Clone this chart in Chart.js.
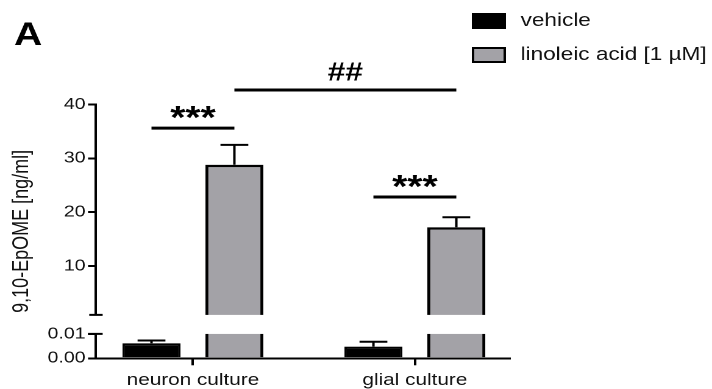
<!DOCTYPE html>
<html>
<head>
<meta charset="utf-8">
<script src="https://cdn.jsdelivr.net/npm/chart.js@4/dist/chart.umd.min.js"></script>
<style>
  html, body { margin: 0; padding: 0; background: #fff; overflow: hidden; }
  #wrap { width: 584px; height: 389px; transform: scaleX(1.2192); transform-origin: 0 0; }
</style>
</head>
<body>
<div id="wrap"><canvas id="c" width="584" height="389"></canvas></div>
<script>
// ---- data (ng/ml) ----
const categories = ['neuron culture', 'glial culture'];
const seriesNames = ['vehicle', 'linoleic acid [1 µM]'];
const vehicleMean = [0.0062, 0.0048];
const vehicleSem = [0.0011, 0.0020];
const linoleicMean = [28.8, 17.2];
const linoleicSem = [3.7, 1.85];

// ---- broken y axis: lower and upper value ranges, tick values and labels ----
const lowerSegment = [0, 0.01];
const upperSegment = [0.9, 40];
const yTickValues = [0, 0.01, 10, 20, 30, 40];
const yTickLabels = ['0.00', '0.01', '10', '20', '30', '40'];

// ---- significance brackets: [dataset, category] endpoints, level in ng/ml ----
const sigLabels = ['***', '***', '##'];
const sigLevels = [35.6, 22.8, 42.7];
const sigFrom = [[0, 0], [0, 1], [1, 0]];
const sigTo = [[1, 0], [1, 1], [1, 1]];

// ---- style ----
const FONT = '"Liberation Sans", Arial, Helvetica, sans-serif';
const INK = '#111';
const GREY = '#a3a2a7';
const LOWER_FRAC = 0.096;   // share of plot height for the lower segment
const GAP_FRAC = 0.075;     // share of plot height for the gap between segments
const sigFontSize = { '***': 32, '##': 26 };

// Linear scale with a break: [lower] gap [upper]
class BrokenLinearScale extends Chart.LinearScale {
  segmentPixels() {
    const h = this.bottom - this.top;
    const lowTop = this.bottom - h * LOWER_FRAC;
    const highBottom = lowTop - h * GAP_FRAC;
    return { lowTop, highBottom };
  }
  buildTicks() {
    return yTickValues.map(v => ({ value: v }));
  }
  getPixelForValue(value) {
    const { lowTop, highBottom } = this.segmentPixels();
    const [l0, l1] = lowerSegment, [u0, u1] = upperSegment;
    if (value <= l1) return this.bottom - (value - l0) / (l1 - l0) * (this.bottom - lowTop);
    if (value >= u0) return highBottom - (value - u0) / (u1 - u0) * (highBottom - this.top);
    return lowTop - (value - l1) / (u0 - l1) * (lowTop - highBottom);
  }
  getValueForPixel(pixel) {
    const { lowTop, highBottom } = this.segmentPixels();
    const [l0, l1] = lowerSegment, [u0, u1] = upperSegment;
    if (pixel >= lowTop) return l0 + (this.bottom - pixel) / (this.bottom - lowTop) * (l1 - l0);
    if (pixel <= highBottom) return u0 + (highBottom - pixel) / (highBottom - this.top) * (u1 - u0);
    return l1 + (lowTop - pixel) / (lowTop - highBottom) * (u0 - l1);
  }
}
BrokenLinearScale.id = 'brokenLinear';
BrokenLinearScale.defaults = {};
Chart.register(BrokenLinearScale);

const means = [vehicleMean, linoleicMean];
const sems = [vehicleSem, linoleicSem];

const annotations = {
  id: 'annotations',
  afterDatasetsDraw(chart) {
    const ctx = chart.ctx, y = chart.scales.y, area = chart.chartArea;
    ctx.save();
    ctx.strokeStyle = '#000';
    ctx.lineWidth = 2;
    // error bars (upper only)
    chart.data.datasets.forEach((ds, d) => {
      chart.getDatasetMeta(d).data.forEach((bar, i) => {
        const top = y.getPixelForValue(means[d][i] + sems[d][i]);
        const half = bar.width * 0.24;
        ctx.beginPath();
        ctx.moveTo(bar.x, bar.y);
        ctx.lineTo(bar.x, top);
        ctx.moveTo(bar.x - half, top);
        ctx.lineTo(bar.x + half, top);
        ctx.stroke();
      });
    });
    // axis break gap
    const { lowTop, highBottom } = y.segmentPixels();
    ctx.fillStyle = '#fff';
    ctx.fillRect(area.left - 3, highBottom, area.right - area.left + 6, lowTop - highBottom);
    ctx.beginPath();
    ctx.moveTo(area.left - 5.5, highBottom);
    ctx.lineTo(area.left + 5.5, highBottom);
    ctx.moveTo(area.left - 6.5, lowTop);
    ctx.lineTo(area.left + 5.5, lowTop);
    ctx.stroke();
    // significance brackets
    ctx.lineWidth = 3;
    ctx.fillStyle = '#000';
    ctx.textAlign = 'center';
    ctx.textBaseline = 'alphabetic';
    sigLabels.forEach((label, k) => {
      const a = chart.getDatasetMeta(sigFrom[k][0]).data[sigFrom[k][1]];
      const b = chart.getDatasetMeta(sigTo[k][0]).data[sigTo[k][1]];
      const ly = y.getPixelForValue(sigLevels[k]);
      ctx.beginPath();
      ctx.moveTo(a.x, ly);
      ctx.lineTo(b.x, ly);
      ctx.stroke();
      ctx.font = 'bold ' + sigFontSize[label] + 'px ' + FONT;
      const m = ctx.measureText(label);
      ctx.fillText(label, (a.x + b.x) / 2, ly - 9.5 - m.actualBoundingBoxDescent);
    });
    ctx.restore();
  },
  afterDraw(chart) {
    const ctx = chart.ctx;
    ctx.save();
    // panel letter
    ctx.fillStyle = '#000';
    ctx.font = 'bold 32px ' + FONT;
    ctx.textAlign = 'left';
    ctx.textBaseline = 'alphabetic';
    ctx.fillText('A', 11.5, 45);
    // legend
    ctx.font = '18.5px ' + FONT;
    ctx.textBaseline = 'middle';
    chart.data.datasets.forEach((ds, d) => {
      const bx = 387, by = 13 + d * 34, bw = 28, bh = 16;
      ctx.fillStyle = ds.backgroundColor;
      ctx.fillRect(bx, by, bw, bh);
      ctx.strokeStyle = ds.borderColor;
      ctx.lineWidth = 2;
      ctx.strokeRect(bx + 1, by + 1, bw - 2, bh - 2);
      ctx.fillStyle = INK;
      ctx.fillText(ds.label, 427, by + bh / 2);
    });
    ctx.restore();
  }
};

new Chart(document.getElementById('c'), {
  type: 'bar',
  data: {
    datasets: [
      {
        label: seriesNames[0],
        data: categories.map((c, i) => ({ x: i, y: vehicleMean[i] })),
        backgroundColor: '#000',
        borderColor: '#000',
        borderWidth: 2
      },
      {
        label: seriesNames[1],
        data: categories.map((c, i) => ({ x: i, y: linoleicMean[i] })),
        backgroundColor: GREY,
        borderColor: '#000',
        borderWidth: 2.5
      }
    ]
  },
  options: {
    responsive: false,
    animation: false,
    devicePixelRatio: 2,
    events: [],
    layout: { padding: { top: 104.5, right: 166, bottom: 0, left: 0 } },
    datasets: { bar: { categoryPercentage: 0.747, barPercentage: 0.70 } },
    plugins: {
      legend: { display: false },
      tooltip: { enabled: false },
      title: { display: false }
    },
    scales: {
      x: {
        type: 'linear',
        offset: false,
        min: -0.437,
        max: 1.427,
        afterBuildTicks: s => { s.ticks = categories.map((c, i) => ({ value: i })); },
        afterFit: s => { s.height = 30.7; },
        grid: { offset: false, drawOnChartArea: false, color: '#000', lineWidth: 2, tickLength: 7 },
        border: { display: true, color: '#000', width: 2 },
        ticks: {
          autoSkip: false, maxRotation: 0, padding: 5,
          color: INK, font: { family: FONT, size: 17 },
          callback: v => categories[v]
        }
      },
      y: {
        type: 'brokenLinear',
        min: 0,
        max: 40,
        afterFit: s => { s.width = 78.7; },
        grid: { drawOnChartArea: false, color: '#000', lineWidth: 2, tickLength: 6.5 },
        border: { display: true, color: '#000', width: 2 },
        ticks: {
          autoSkip: false, padding: 2,
          color: INK, font: { family: FONT, size: 16 },
          callback: (v, i) => yTickLabels[i]
        },
        title: {
          display: true,
          text: '9,10-EpOME [ng/ml]',
          color: INK,
          font: { family: FONT, size: 18 },
          padding: { top: 7, bottom: 0 }
        }
      }
    }
  },
  plugins: [annotations]
});
</script>
</body>
</html>
